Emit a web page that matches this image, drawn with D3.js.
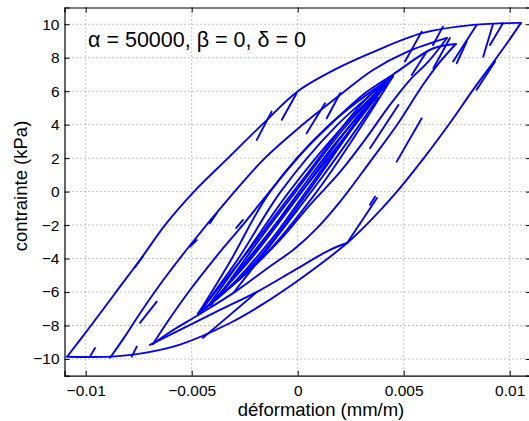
<!DOCTYPE html>
<html><head><meta charset="utf-8">
<script src="https://cdn.jsdelivr.net/npm/d3@7"></script>
<style>body{margin:0;background:#fff}svg{display:block}</style>
</head><body>
<svg id="c" width="529" height="421"></svg>
<script>
const xTicks=[-0.01,-0.005,0,0.005,0.01];
const xTickLabels=["\u22120.01","\u22120.005","0","0.005","0.01"];
const yTicks=[-10,-8,-6,-4,-2,0,2,4,6,8,10];
const yTickLabels=["\u221210","\u22128","\u22126","\u22124","\u22122","0","2","4","6","8","10"];

const outerLoading=[[-0.01088,-9.87],[-0.00975,-8],[-0.00857,-6],[-0.00739,-4],[-0.00626,-2],[-0.00489,0],[-0.00329,2],[-0.00168,4],[0.00001,6],[0.00200,7.45],[0.00355,8.34],[0.00591,9.48],[0.00827,9.96],[0.01053,10.08]];
const outerUnloading=[[0.01053,10.08],[0.00992,8.95],[0.00921,7.70],[0.00827,6.08],[0.00718,4.10],[0.00591,1.94],[0.00459,-0.14],[0.00341,-1.76],[0.00233,-3.07],[0.00025,-5.10],[-0.00178,-6.83],[-0.00319,-7.85],[-0.00555,-9.14],[-0.00744,-9.68],[-0.00885,-9.86],[-0.01088,-9.87]];
const secondLoading=[[-0.00885,-9.93],[-0.00810,-8.56],[-0.00739,-7.18],[-0.00626,-5.15],[-0.00499,-3.07],[-0.00319,-0.32],[-0.00163,1.90],[0.00011,3.87],[0.00200,5.78],[0.00355,7.27],[0.00516,8.35],[0.00704,9.18]];
const secondUnloading=[[0.00704,9.18],[0.00615,7.75],[0.00530,6.68],[0.00435,5.18],[0.00317,3.09],[0.00200,1.18],[0.00058,-0.79],[-0.00083,-2.89],[-0.00225,-4.68],[-0.00343,-5.99],[-0.00470,-7.30]];
const thirdLoading=[[-0.00683,-9.11],[-0.00602,-7.55],[-0.00508,-5.88],[-0.00390,-3.97],[-0.00248,-1.82],[-0.00107,0.39],[0.00034,2.49],[0.00200,4.56],[0.00317,5.88],[0.00450,7.00],[0.00638,8.55],[0.00746,8.82]];
const thirdUnloading=[[0.00746,8.82],[0.00671,7.75],[0.00591,6.38],[0.00469,3.99],[0.00341,1.78],[0.00200,-0.60],[0.00090,-2.20],[-0.00013,-3.40],[-0.00154,-4.68],[-0.00296,-5.99],[-0.00461,-7.31],[-0.00602,-8.39],[-0.00683,-9.11]];
const innerLoading=[[-0.00469,-7.31],[-0.00343,-5.28],[-0.00211,-3.19],[-0.00069,-0.80],[0.00058,1.29],[0.00200,3.68],[0.00317,5.47],[0.00445,6.91]];
const innerUnloading=[[0.00445,6.91],[0.00350,5.47],[0.00247,3.68],[0.00129,1.59],[0.00011,-0.50],[-0.00107,-2.59],[-0.00225,-4.38],[-0.00343,-5.99],[-0.00469,-7.31]];
const lowerArc=[[-0.00697,-9.16],[-0.00555,-8.26],[-0.00367,-7.07],[-0.00192,-5.99],[-0.00013,-4.68],[0.00152,-3.48],[0.00233,-3.07]];
const bundle=[
 [[-0.0047,-7.3],[-0.0032,-4.2],[-0.0013,0],[0.0015,4.0],[0.0045,6.9]],
 [[-0.0047,-7.3],[-0.0028,-4.0],[-0.0008,0],[0.0018,3.9],[0.0045,6.9]],
 [[-0.0042,-6.8],[-0.0024,-3.6],[-0.0004,0],[0.0020,3.7],[0.0040,6.3]],
 [[0.0045,6.9],[0.0030,3.9],[0.0009,0],[-0.0017,-4.0],[-0.0047,-7.3]],
 [[0.0045,6.9],[0.0026,3.8],[0.0005,0],[-0.0020,-4.2],[-0.0047,-7.3]],
 [[0.0040,6.3],[0.0022,3.5],[0.0002,0],[-0.0022,-4.0],[-0.0042,-6.8]],
 [[-0.0038,-6.4],[-0.0020,-3.2],[-0.0001,0],[0.0022,3.8],[0.0038,6.0]],
 [[0.0036,5.6],[0.0016,2.6],[-0.0001,-0.3],[-0.0019,-3.4],[-0.0036,-6.0]],
 [[-0.0041,-6.8],[0.0000,-0.3],[0.0041,6.3]],
 [[-0.0030,-6.0],[0.0010,0.6],[0.0038,5.6]]
];
const spikes=[
 [[-0.00123,4.78],[-0.00193,3.09]],[[-0.00005,5.88],[-0.00075,4.29]],[[0.00129,5.28],[0.00042,3.49]],
 [[0.00200,5.88],[0.00137,4.38]],[[0.00585,9.56],[0.00506,7.77]],[[0.00685,9.86],[0.00638,8.76]],
 [[0.00844,9.96],[0.00733,7.77]],[[0.00921,10.0],[0.00875,8.06]],[[0.00968,10.06],[0.00907,8.76]],
 [[0.00718,9.18],[0.00640,7.37]],[[0.00797,8.96],[0.00750,7.67]],[[0.00538,6.97],[0.00608,8.36]],
 [[0.00475,5.18],[0.00341,2.59]],[[0.00585,4.38],[0.00467,1.79]],[[0.00365,-0.30],[0.00341,-0.79]],
 [[0.00931,7.77],[0.00844,6.08]],[[-0.00980,-9.86],[-0.00956,-9.35]],[[-0.00783,-9.86],[-0.00759,-9.26]],
 [[-0.00730,-3.88],[-0.00768,-4.53]],[[-0.00382,-1.29],[-0.00414,-1.89]],[[0.00233,-3.07],[0.00374,-0.38]],
 [[-0.00447,-8.74],[-0.00192,-5.99]],[[-0.00744,-7.84],[-0.00665,-6.57]],[[-0.00508,-3.29],[-0.00476,-2.89]],
 [[-0.00258,-1.69],[-0.00290,-2.17]]
];

const svg=d3.select("#c");
const x=d3.scaleLinear().domain([-0.011,0.011]).range([64.5,530.9]);
const y=d3.scaleLinear().domain([-11,11]).range([375.7,7.5]);
const font="'Liberation Sans', Arial, Helvetica, sans-serif";

const g=svg.append("g");
g.selectAll("line.gx").data(xTicks).join("line").attr("class","gx").attr("x1",d=>x(d)).attr("x2",d=>x(d))
 .attr("y1",y(11)).attr("y2",y(-11)).attr("stroke","#8c8c8c").attr("stroke-width",1).attr("stroke-dasharray","1,3");
g.selectAll("line.gy").data(yTicks).join("line").attr("class","gy").attr("y1",d=>y(d)).attr("y2",d=>y(d))
 .attr("x1",x(-0.011)).attr("x2",x(0.011)).attr("stroke","#8c8c8c").attr("stroke-width",1).attr("stroke-dasharray","1,3");

const line=d3.line().x(d=>x(d[0])).y(d=>y(d[1])).curve(d3.curveCatmullRom.alpha(0.5));
const curves=[outerLoading,outerUnloading,secondLoading,secondUnloading,thirdLoading,thirdUnloading,innerLoading,innerUnloading,lowerArc,...bundle,...spikes];
svg.append("g").selectAll("path").data(curves).join("path").attr("d",line)
 .attr("fill","none").attr("stroke","#0000ff").attr("stroke-width",1.9).attr("stroke-linejoin","round").attr("stroke-linecap","round");

const ax=svg.append("g");
const xb=d3.axisBottom(x).tickValues(xTicks).tickFormat((d,i)=>xTickLabels[i]).tickSize(-5).tickPadding(9);
const xt=d3.axisTop(x).tickValues(xTicks).tickFormat("").tickSize(-5);
const yl=d3.axisLeft(y).tickValues(yTicks).tickFormat((d,i)=>yTickLabels[i]).tickSize(-5).tickPadding(5);
const yr=d3.axisRight(y).tickValues(yTicks).tickFormat("").tickSize(-5);
ax.append("g").attr("transform",`translate(0,${y(-11)})`).call(xb);
ax.append("g").attr("transform",`translate(0,${y(11)})`).call(xt);
ax.append("g").attr("transform",`translate(${x(-0.011)},0)`).call(yl);
ax.append("g").attr("transform",`translate(${x(0.011)},0)`).call(yr);
ax.selectAll(".domain").attr("stroke","#000").attr("stroke-width",1.2);
ax.selectAll(".tick line").attr("stroke","#000");
ax.selectAll("text").attr("font-family",font).attr("font-size",15.5).attr("fill","#000");

svg.append("text").attr("x",321).attr("y",416).attr("text-anchor","middle")
 .attr("font-family",font).attr("font-size",18.5).text("déformation (mm/m)");
svg.append("text").attr("transform",`translate(27,186) rotate(-90)`).attr("text-anchor","middle")
 .attr("font-family",font).attr("font-size",18.5).text("contrainte (kPa)");
svg.append("text").attr("x",88).attr("y",47).attr("font-family",font).attr("font-size",21.5)
 .text("\u03b1 = 50000, \u03b2 = 0, \u03b4 = 0");
</script>
</body></html>
